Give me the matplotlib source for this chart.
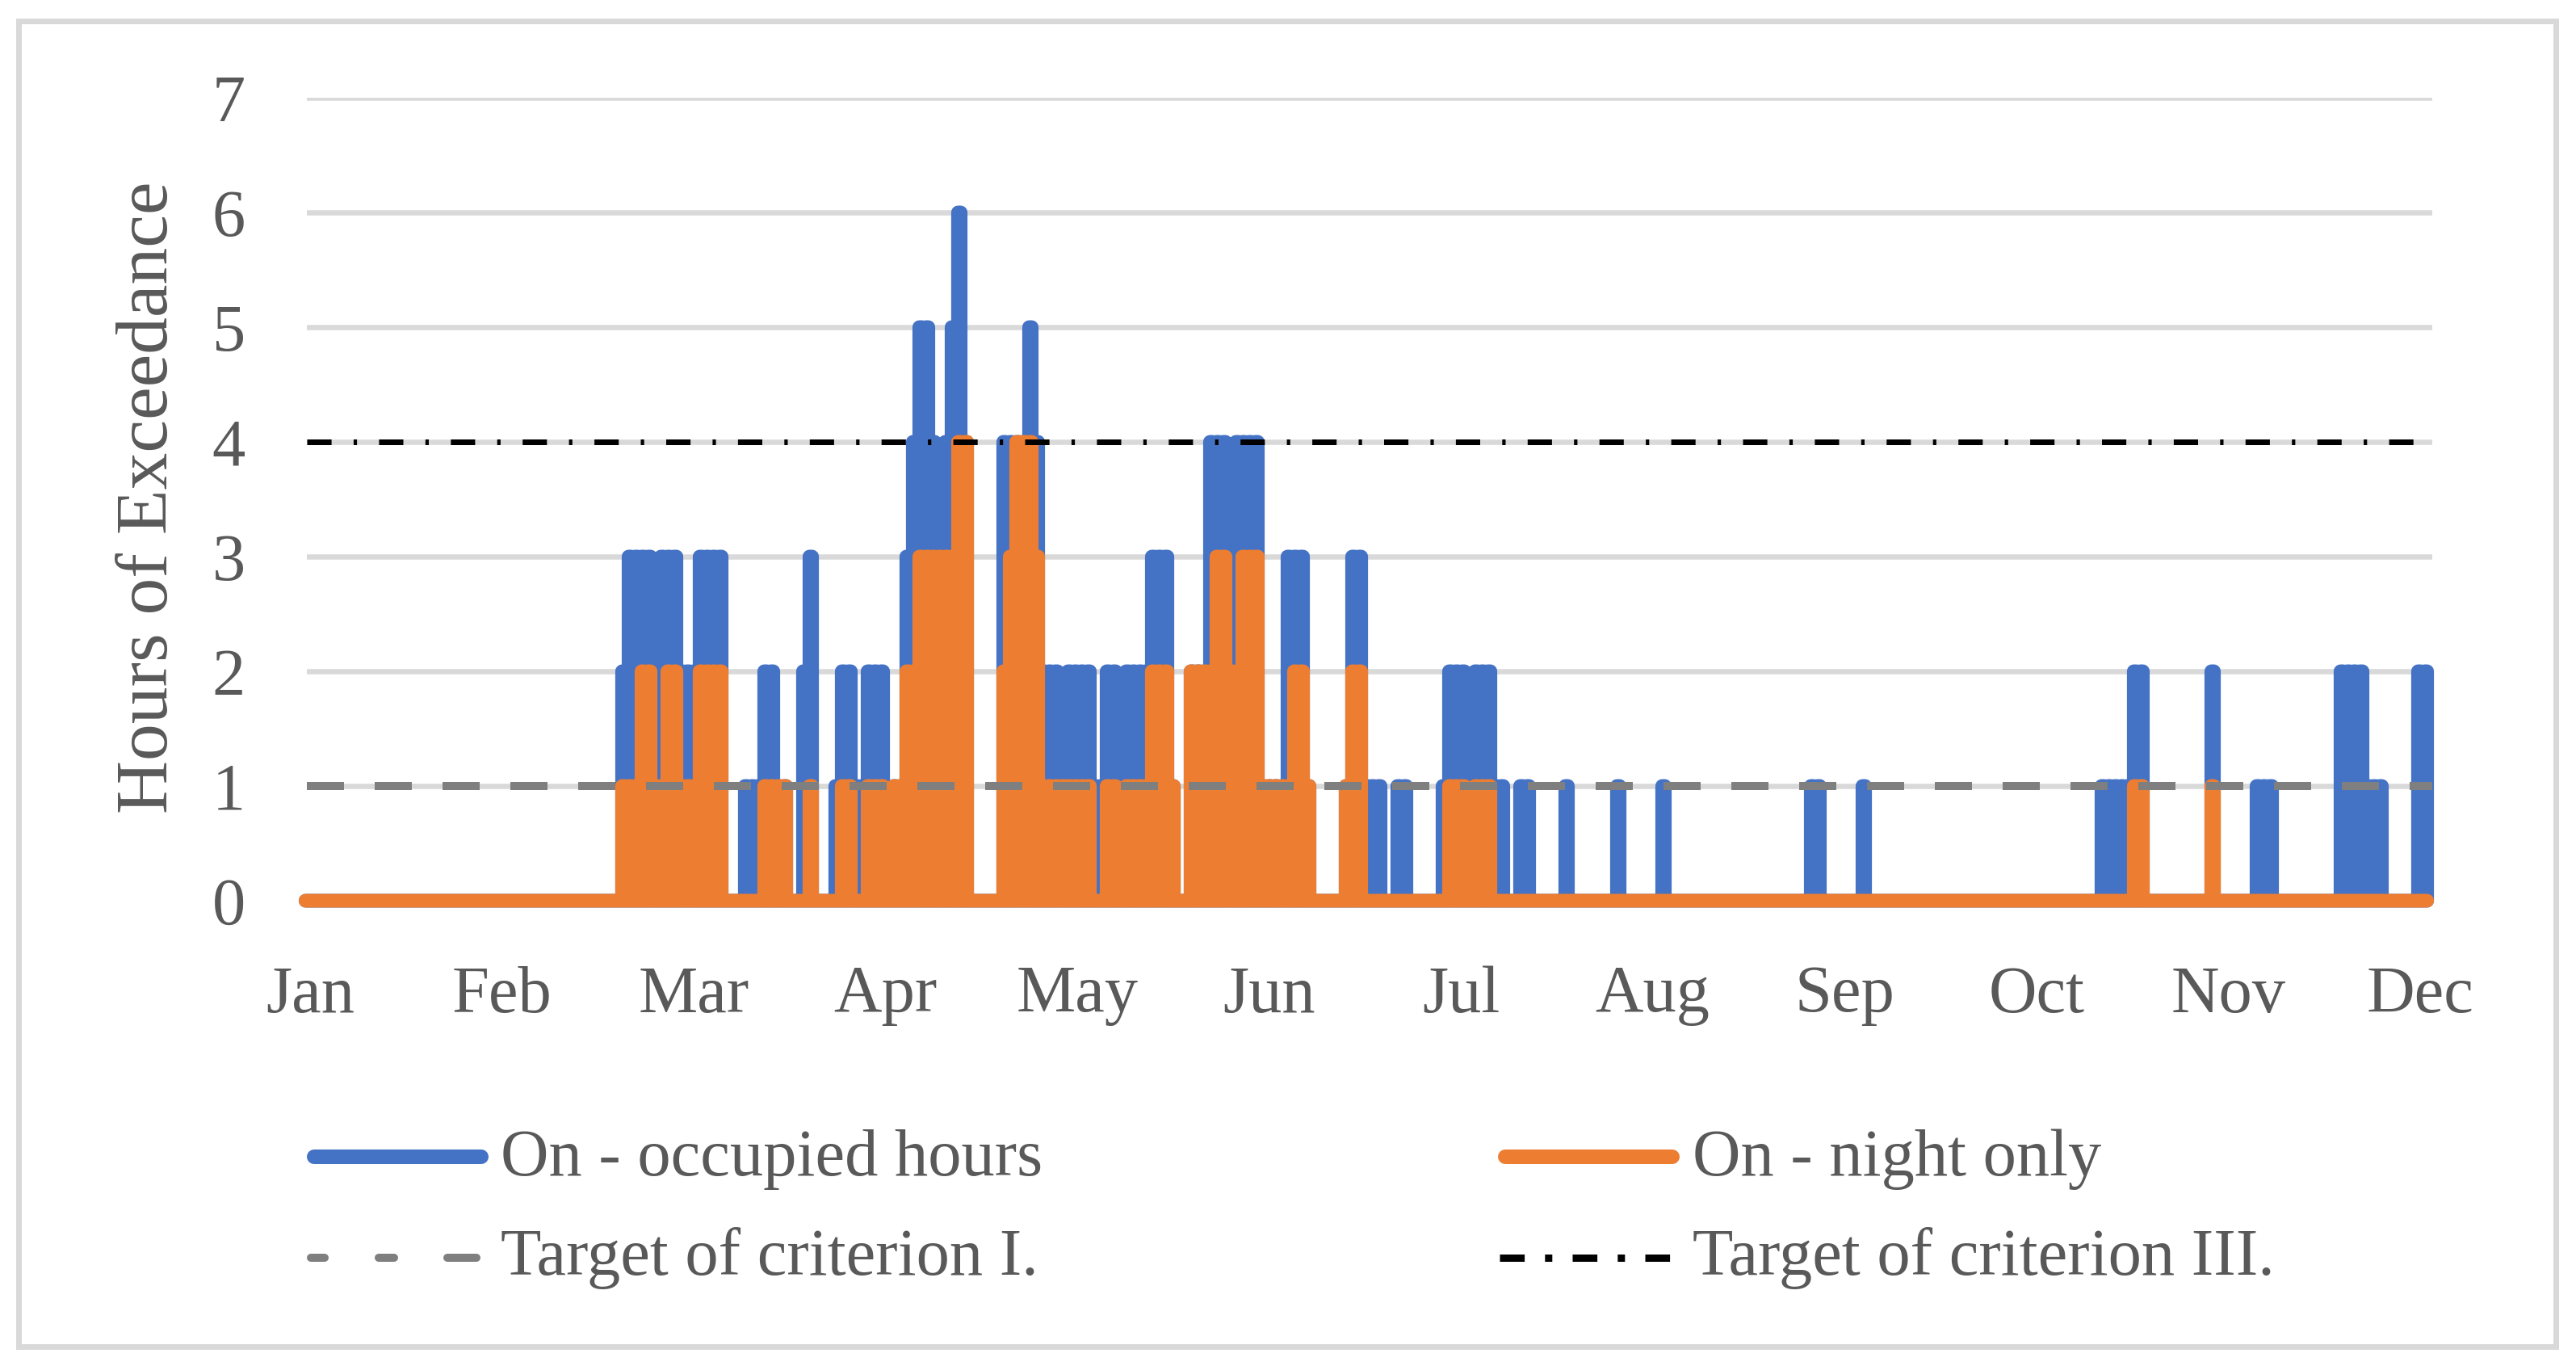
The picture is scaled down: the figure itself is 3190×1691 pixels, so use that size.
import numpy as np
import matplotlib
matplotlib.use("Agg")
import matplotlib.pyplot as plt
from matplotlib.patches import Rectangle

plt.rcParams['font.family'] = ['Liberation Serif', 'DejaVu Serif']

# ---------------- data (daily values, day index from 1 Jan) ----------------
months = ['Jan', 'Feb', 'Mar', 'Apr', 'May', 'Jun', 'Jul', 'Aug', 'Sep', 'Oct', 'Nov', 'Dec']
n_days = 329

occ_days = [49, 50, 51, 52, 53, 54, 55, 56, 57, 58, 59, 60, 61, 62, 63, 64,
            68, 69, 70, 71, 72, 73, 74, 77, 78,
            82, 83, 84, 85, 86, 87, 88, 89,
            91, 92, 93, 94, 95, 96, 97, 98, 99, 100, 101, 102,
            108, 109, 110, 111, 112, 113, 114, 115, 116, 117, 118, 119, 120, 121,
            122, 123, 124, 125, 126, 127, 128, 129, 130, 131, 132, 133, 134,
            137, 138, 139, 140, 141, 142, 143, 144, 145, 146, 147,
            148, 149, 150, 151, 152, 153, 154, 155,
            161, 162, 163, 164, 165, 166, 169, 170,
            176, 177, 178, 179, 180, 181, 182, 183, 184, 185, 188, 189, 195,
            203, 210, 233, 234, 241,
            278, 279, 280, 281, 282, 283, 284, 295, 302, 303, 304,
            315, 316, 317, 318, 319, 320, 321, 327, 328]
occ_vals = [2, 3, 3, 3, 3, 2, 3, 3, 3, 2, 2, 2, 3, 3, 3, 3,
            1, 1, 1, 2, 2, 1, 1, 2, 3,
            1, 2, 2, 1, 1, 2, 2, 2,
            1, 1, 3, 4, 5, 5, 4, 3, 4, 5, 6, 4,
            4, 4, 4, 4, 5, 4, 2, 2, 2, 1, 2, 2, 2, 2,
            1, 1, 2, 2, 1, 2, 2, 2, 2, 3, 3, 3, 1,
            2, 2, 2, 4, 4, 4, 2, 4, 4, 4, 4,
            1, 1, 1, 1, 3, 3, 3, 1,
            1, 3, 3, 1, 1, 1, 1, 1,
            1, 2, 2, 2, 1, 2, 2, 2, 1, 1, 1, 1, 1,
            1, 1, 1, 1, 1,
            1, 1, 1, 1, 1, 2, 2, 2, 1, 1, 1,
            2, 2, 2, 2, 1, 1, 1, 2, 2]

night_days = [49, 50, 51, 52, 53, 54, 55, 56, 57, 58, 59, 60, 61, 62, 63, 64,
              71, 72, 73, 74, 78,
              83, 84, 87, 88, 89,
              91, 92, 93, 94, 95, 96, 97, 98, 99, 100, 101, 102,
              108, 109, 110, 111, 112, 113, 114, 115, 116, 117, 118, 119, 120, 121,
              124, 125, 127, 128, 129, 130, 131, 132, 133, 134,
              137, 138, 139, 140, 141, 142, 143, 144, 145, 146, 147,
              148, 149, 150, 151, 152, 153, 154, 155,
              161, 162, 163,
              177, 178, 179, 181, 182, 183,
              283, 284, 295]
night_vals = [1, 1, 1, 2, 2, 1, 1, 2, 2, 1, 1, 1, 2, 2, 2, 2,
              1, 1, 1, 1, 1,
              1, 1, 1, 1, 1,
              1, 1, 2, 2, 3, 3, 3, 3, 3, 3, 4, 4,
              2, 3, 4, 4, 4, 3, 1, 1, 1, 1, 1, 1, 1, 1,
              1, 1, 1, 1, 1, 1, 2, 2, 2, 1,
              2, 2, 2, 2, 3, 3, 2, 2, 3, 3, 3,
              1, 1, 1, 1, 1, 2, 2, 1,
              1, 2, 2,
              1, 1, 1, 1, 1, 1,
              1, 1, 1]

target_I = 1
target_III = 4

labels = ['On - occupied hours', 'On - night only',
          'Target of criterion I.', 'Target of criterion III.']

occ = np.zeros(n_days)
occ[occ_days] = occ_vals
night = np.zeros(n_days)
night[night_days] = night_vals


def spikes(v, h=0.2):
    d = np.arange(len(v), dtype=float)
    z = np.zeros_like(v)
    x = np.column_stack([d - h, d - h, d + h, d + h]).ravel()
    y = np.column_stack([z, v, v, z]).ravel()
    return x, y


# ---------------- figure ----------------
W, H, DPI = 3190, 1691, 100
PX = 72.0 / DPI
BLUE, ORANGE, GREY, TXT, GRID = '#4472C4', '#ED7D31', '#7F7F7F', '#595959', '#D9D9D9'

fig = plt.figure(figsize=(W / DPI, H / DPI), dpi=DPI)
fig.patch.set_facecolor('white')

x_left, x_right, y_top, y_bot = 380, 3012, 121, 1115
ax = fig.add_axes([x_left / W, (H - y_bot) / H, (x_right - x_left) / W, (y_bot - y_top) / H])
ax.set_xlim(0, n_days)
ax.set_ylim(0, 7)
for s in ax.spines.values():
    s.set_visible(False)
ax.set_yticks(range(8))
ax.yaxis.grid(True, color=GRID, lw=6.5 * PX)
ax.set_axisbelow(True)
ax.set_xticks(np.linspace(0.5, 327.1, 12))
ax.set_xticklabels(months)

xb, yb = spikes(occ)
xo, yo = spikes(night)
ax.plot(xb, yb, color=BLUE, lw=17 * PX, solid_joinstyle='round',
        solid_capstyle='round', clip_on=False, zorder=3)
ax.plot(xo, yo, color=ORANGE, lw=17 * PX, solid_joinstyle='round',
        solid_capstyle='round', clip_on=False, zorder=4)
ax.axhline(target_I, color=GREY, lw=10 * PX, dashes=(4.6, 3.8),
           dash_capstyle='butt', zorder=5)
ax.axhline(target_III, color='black', lw=7 * PX, dashes=(4.3, 3.9, 0.6, 3.9),
           dash_capstyle='butt', zorder=6)

# overlay in pixel coordinates for legend / frame / axis title
ov = fig.add_axes([0, 0, 1, 1])
ov.set_xlim(0, W)
ov.set_ylim(H, 0)
ov.axis('off')

ov.add_patch(Rectangle((23, 26), 3165 - 23, 1667 - 26, fill=False,
                       edgecolor=GRID, lw=7 * PX))

ov.plot([389, 596], [1432, 1432], color=BLUE, lw=18 * PX, solid_capstyle='round')
ov.plot([1864, 2071], [1432, 1432], color=ORANGE, lw=18 * PX, solid_capstyle='round')
ov.plot([385, 590], [1557, 1557], color=GREY, lw=10 * PX,
        dashes=(1.7, 6.7, 1.9, 6.6, 3.6, 10), dash_capstyle='round')
ov.plot([1857, 2080], [1557, 1557], color='black', lw=9 * PX,
        dashes=(3.4, 2.8, 1.0, 2.8), dash_capstyle='butt')

base = 60
texts = [
    ov.text(620, 1455, labels[0], fontsize=base, color=TXT, va='baseline', ha='left'),
    ov.text(2096, 1455, labels[1], fontsize=base, color=TXT, va='baseline', ha='left'),
    ov.text(620, 1578, labels[2], fontsize=base, color=TXT, va='baseline', ha='left'),
    ov.text(2096, 1578, labels[3], fontsize=base, color=TXT, va='baseline', ha='left'),
]
ylab = ov.text(185, 616, 'Hours of Exceedance', fontsize=base, color=TXT,
               rotation=90, ha='center', va='center')

renderer = fig.canvas.get_renderer()
w0 = texts[0].get_window_extent(renderer).width
fs = base * 672.0 / w0
for t in texts:
    t.set_fontsize(fs)
h0 = ylab.get_window_extent(renderer).height
ylab.set_fontsize(base * 783.0 / h0)

ax.tick_params(axis='both', length=0, labelsize=fs, labelcolor=TXT)
ax.tick_params(axis='y', pad=76 * PX)
ax.tick_params(axis='x', pad=80 * PX)

fig.savefig('out.png', dpi=DPI, facecolor='white')
